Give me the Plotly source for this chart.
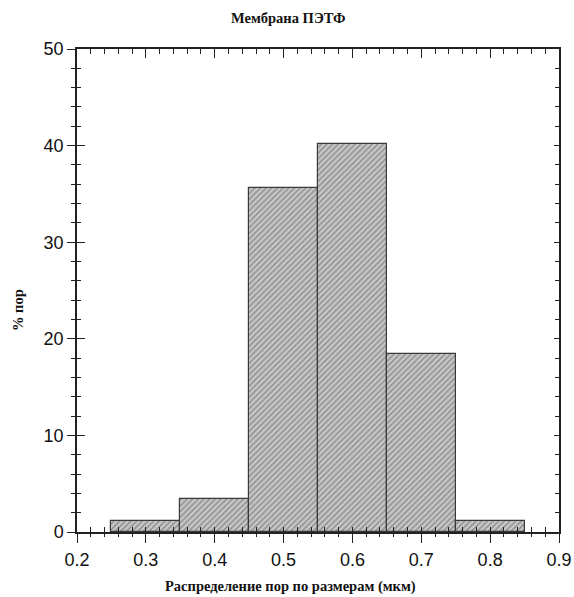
import plotly.graph_objects as go

# Pore size distribution of the PET membrane
bin_left = [0.25, 0.35, 0.45, 0.55, 0.65, 0.75]
bin_width = 0.1
pore_percent = [1.1, 3.4, 35.6, 40.2, 18.4, 1.1]

x_ticks = [0.2, 0.3, 0.4, 0.5, 0.6, 0.7, 0.8, 0.9]
y_ticks = [0, 10, 20, 30, 40, 50]

title_text = "Мембрана ПЭТФ"
x_title = "Распределение пор по размерам (мкм)"
y_title = "% пор"

centers = [b + bin_width / 2 for b in bin_left]

fig = go.Figure()
fig.add_trace(go.Bar(
    x=centers, y=pore_percent, width=[bin_width] * len(bin_left),
    marker=dict(
        color="#c0c0c0",
        line=dict(color="#3a3a3a", width=1.2),
        pattern=dict(shape="/", size=4, solidity=0.4,
                     fgcolor="#5a5a5a", bgcolor="#c8c8c8"),
    ),
    showlegend=False, hoverinfo="skip",
))

# empty traces so the extra tick axes get drawn
for xa, ya in [("x2", "y2"), ("x3", "y3")]:
    fig.add_trace(go.Scatter(x=[None], y=[None], xaxis=xa, yaxis=ya,
                             showlegend=False, hoverinfo="skip"))

xr = [0.2, 0.9]
yr = [0, 50]
line = dict(showline=True, linecolor="#222", linewidth=1.5, automargin=False,
            tickcolor="#222", tickwidth=1.3, showgrid=False, zeroline=False)
serif_bold = dict(family="Liberation Serif", size=14.5, color="#111", weight="bold")

# page geometry (pixels) used for placing the free text
W, H = 574, 597
L, R, T, B = 77, 15, 49, 65
pw, ph = W - L - R, H - T - B


def px_to_paper(px, py):
    return (px - L) / pw, (H - B - py) / ph


def text_at(text, px, py, angle=0):
    ax, ay = px_to_paper(px, py)
    return dict(text=text, x=ax, y=ay, xref="paper", yref="paper",
                xanchor="center", yanchor="middle", showarrow=False,
                textangle=angle, font=serif_bold)


fig.update_layout(
    width=W, height=H,
    margin=dict(l=L, r=R, t=T, b=B),
    plot_bgcolor="white", paper_bgcolor="white",
    bargap=0,
    xaxis=dict(range=xr, tickvals=x_ticks, ticktext=[f"{v:g}" for v in x_ticks],
               ticks="outside", ticklen=9, ticklabelstandoff=2,
               minor=dict(dtick=0.02, ticks="outside", ticklen=3, tickcolor="#222"),
               tickfont=dict(family="Liberation Sans", size=18, color="#111"),
               **line),
    xaxis2=dict(range=xr, overlaying="x", side="bottom", anchor="y",
                tickvals=x_ticks, ticks="inside", ticklen=5, showticklabels=False,
                minor=dict(dtick=0.02, ticks="inside", ticklen=5, tickcolor="#222"),
                **line),
    xaxis3=dict(range=xr, overlaying="x", side="top", anchor="y",
                tickvals=x_ticks, ticks="inside", ticklen=9, showticklabels=False,
                minor=dict(dtick=0.02, ticks="inside", ticklen=5, tickcolor="#222"),
                **line),
    yaxis=dict(range=yr, tickvals=y_ticks, ticks="outside", ticklen=8,
               minor=dict(dtick=2, ticks="outside", ticklen=4, tickcolor="#222"),
               tickfont=dict(family="Liberation Sans", size=18, color="#111"),
               **line),
    yaxis2=dict(range=yr, overlaying="y", side="left", anchor="x",
                tickvals=y_ticks, ticks="inside", ticklen=8, showticklabels=False,
                minor=dict(dtick=2, ticks="inside", ticklen=4, tickcolor="#222"),
                **line),
    yaxis3=dict(range=yr, overlaying="y", side="right", anchor="x",
                tickvals=y_ticks, ticks="inside", ticklen=5, showticklabels=False,
                minor=dict(dtick=2, ticks="inside", ticklen=4, tickcolor="#222"),
                **line),
    annotations=[
        text_at(title_text, 288, 18),
        text_at(x_title, 290, 586),
        text_at(y_title, 18, 310, angle=-90),
    ],
)

fig.write_html("out.html")
